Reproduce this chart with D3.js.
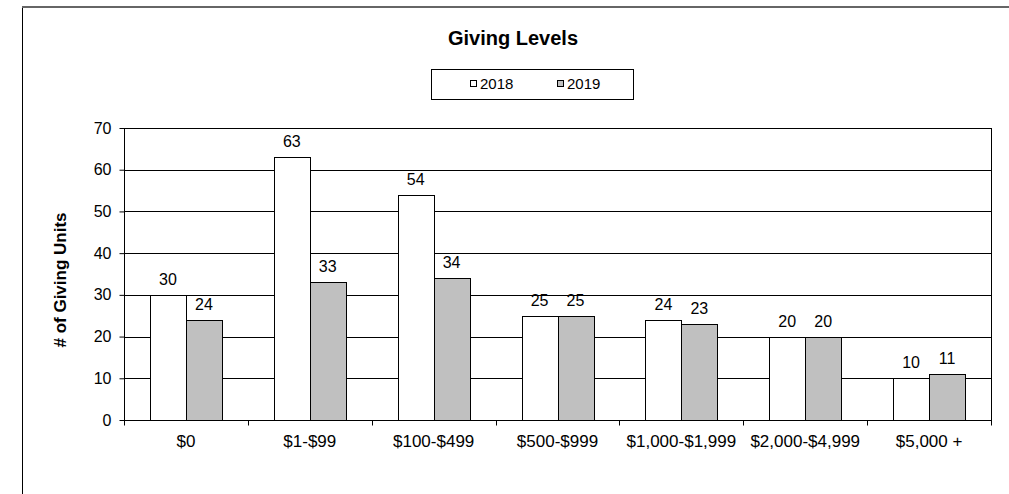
<!DOCTYPE html>
<html>
<head>
<meta charset="utf-8">
<script src="https://cdn.jsdelivr.net/npm/d3@7"></script>
<style>
  html, body { margin: 0; padding: 0; background: #fff; }
  svg { display: block; }
  text { font-family: "Liberation Sans", Arial, sans-serif; fill: #000; }
</style>
</head>
<body>
<svg id="chart" width="1009" height="494"></svg>
<script>
const categories = ["$0", "$1-$99", "$100-$499", "$500-$999", "$1,000-$1,999", "$2,000-$4,999", "$5,000 +"];
const seriesNames = ["2018", "2019"];
const values2018 = [30, 63, 54, 25, 24, 20, 10];
const values2019 = [24, 33, 34, 25, 23, 20, 11];
const yTicks = [0, 10, 20, 30, 40, 50, 60, 70];
const colors = ["#ffffff", "#c0c0c0"];
const title = "Giving Levels";
const yLabel = "# of Giving Units";

const svg = d3.select("#chart");
const plot = { left: 124, right: 991, top: 128, bottom: 420 };

// Outer frame
svg.append("line").attr("x1", 22.5).attr("x2", 22.5).attr("y1", 7).attr("y2", 494)
  .attr("stroke", "#000").attr("stroke-width", 1);
svg.append("line").attr("x1", 22).attr("x2", 1009).attr("y1", 7).attr("y2", 7)
  .attr("stroke", "#666").attr("stroke-width", 2);

const x = d3.scaleBand().domain(categories).range([plot.left, plot.right]).padding(0);
const y = d3.scaleLinear().domain([0, 70]).range([plot.bottom, plot.top]);
const barW = x.bandwidth() * 0.29;
const x1 = d3.scaleBand().domain(seriesNames).range([0, barW * 2]);

// Gridlines
svg.append("g").selectAll("line").data(yTicks.filter(d => d > 0)).join("line")
  .attr("x1", plot.left).attr("x2", plot.right)
  .attr("y1", d => Math.round(y(d)) + 0.5).attr("y2", d => Math.round(y(d)) + 0.5)
  .attr("stroke", "#000").attr("stroke-width", 1);
// right border
svg.append("line").attr("x1", plot.right + 0.5).attr("x2", plot.right + 0.5)
  .attr("y1", plot.top).attr("y2", plot.bottom).attr("stroke", "#000");

// Bars
const series = [values2018, values2019];
const groups = svg.append("g");
series.forEach((vals, si) => {
  groups.append("g").selectAll("rect").data(vals).join("rect")
    .attr("x", (d, i) => Math.round(x(categories[i]) + x.bandwidth() / 2 - barW + x1(seriesNames[si])) + 0.5)
    .attr("width", Math.round(barW))
    .attr("y", d => Math.round(y(d)) + 0.5)
    .attr("height", d => Math.round(y(0)) - Math.round(y(d)))
    .attr("fill", colors[si]).attr("stroke", "#000").attr("stroke-width", 1);
  groups.append("g").selectAll("text").data(vals).join("text")
    .attr("x", (d, i) => x(categories[i]) + x.bandwidth() / 2 - barW + x1(seriesNames[si]) + barW / 2)
    .attr("y", d => y(d) - 10)
    .attr("text-anchor", "middle").attr("font-size", 16)
    .text(d => d);
});

// Y axis
const yAxis = d3.axisLeft(y).tickValues(yTicks).tickSize(5).tickPadding(8);
const gy = svg.append("g").attr("transform", `translate(${plot.left + 0.5},0)`).call(yAxis);
gy.select(".domain").attr("stroke", "#000").attr("d", `M0,${plot.top}V${plot.bottom}`);
gy.selectAll(".tick line").attr("stroke", "#000");
gy.selectAll(".tick text").attr("font-size", 16).attr("font-family", "Liberation Sans, Arial, sans-serif").attr("fill", "#000");

// X axis
const xAxis = d3.axisBottom(x).tickSize(0).tickPadding(14);
const gx = svg.append("g").attr("transform", `translate(0,${plot.bottom + 0.5})`).call(xAxis);
gx.select(".domain").attr("stroke", "#000").attr("d", `M${plot.left},0H${plot.right + 1}`);
gx.selectAll(".tick text").attr("font-size", 17).attr("font-family", "Liberation Sans, Arial, sans-serif").attr("fill", "#000");
// category boundary ticks
const bounds = categories.map(c => x(c)).concat([plot.right]);
gx.append("g").selectAll("line").data(bounds).join("line")
  .attr("x1", d => Math.round(d) + 0.5).attr("x2", d => Math.round(d) + 0.5)
  .attr("y1", 0).attr("y2", 5).attr("stroke", "#000");

// Title
svg.append("text").attr("x", 513).attr("y", 45).attr("text-anchor", "middle")
  .attr("font-size", 20).attr("font-weight", "bold").text(title);

// Y label
svg.append("text").attr("transform", `translate(66,${(plot.top + plot.bottom) / 2 + 6}) rotate(-90)`)
  .attr("text-anchor", "middle").attr("font-size", 17).attr("font-weight", "bold").text(yLabel);

// Legend
const lg = svg.append("g");
lg.append("rect").attr("x", 431.5).attr("y", 69.5).attr("width", 202).attr("height", 30)
  .attr("fill", "#fff").attr("stroke", "#000");
const legendX = [470, 557];
seriesNames.forEach((s, i) => {
  lg.append("rect").attr("x", legendX[i] + 0.5).attr("y", 80.5).attr("width", 6).attr("height", 6)
    .attr("fill", colors[i]).attr("stroke", "#000");
  lg.append("text").attr("x", legendX[i] + 10).attr("y", 89).attr("font-size", 15).text(s);
});
</script>
</body>
</html>
